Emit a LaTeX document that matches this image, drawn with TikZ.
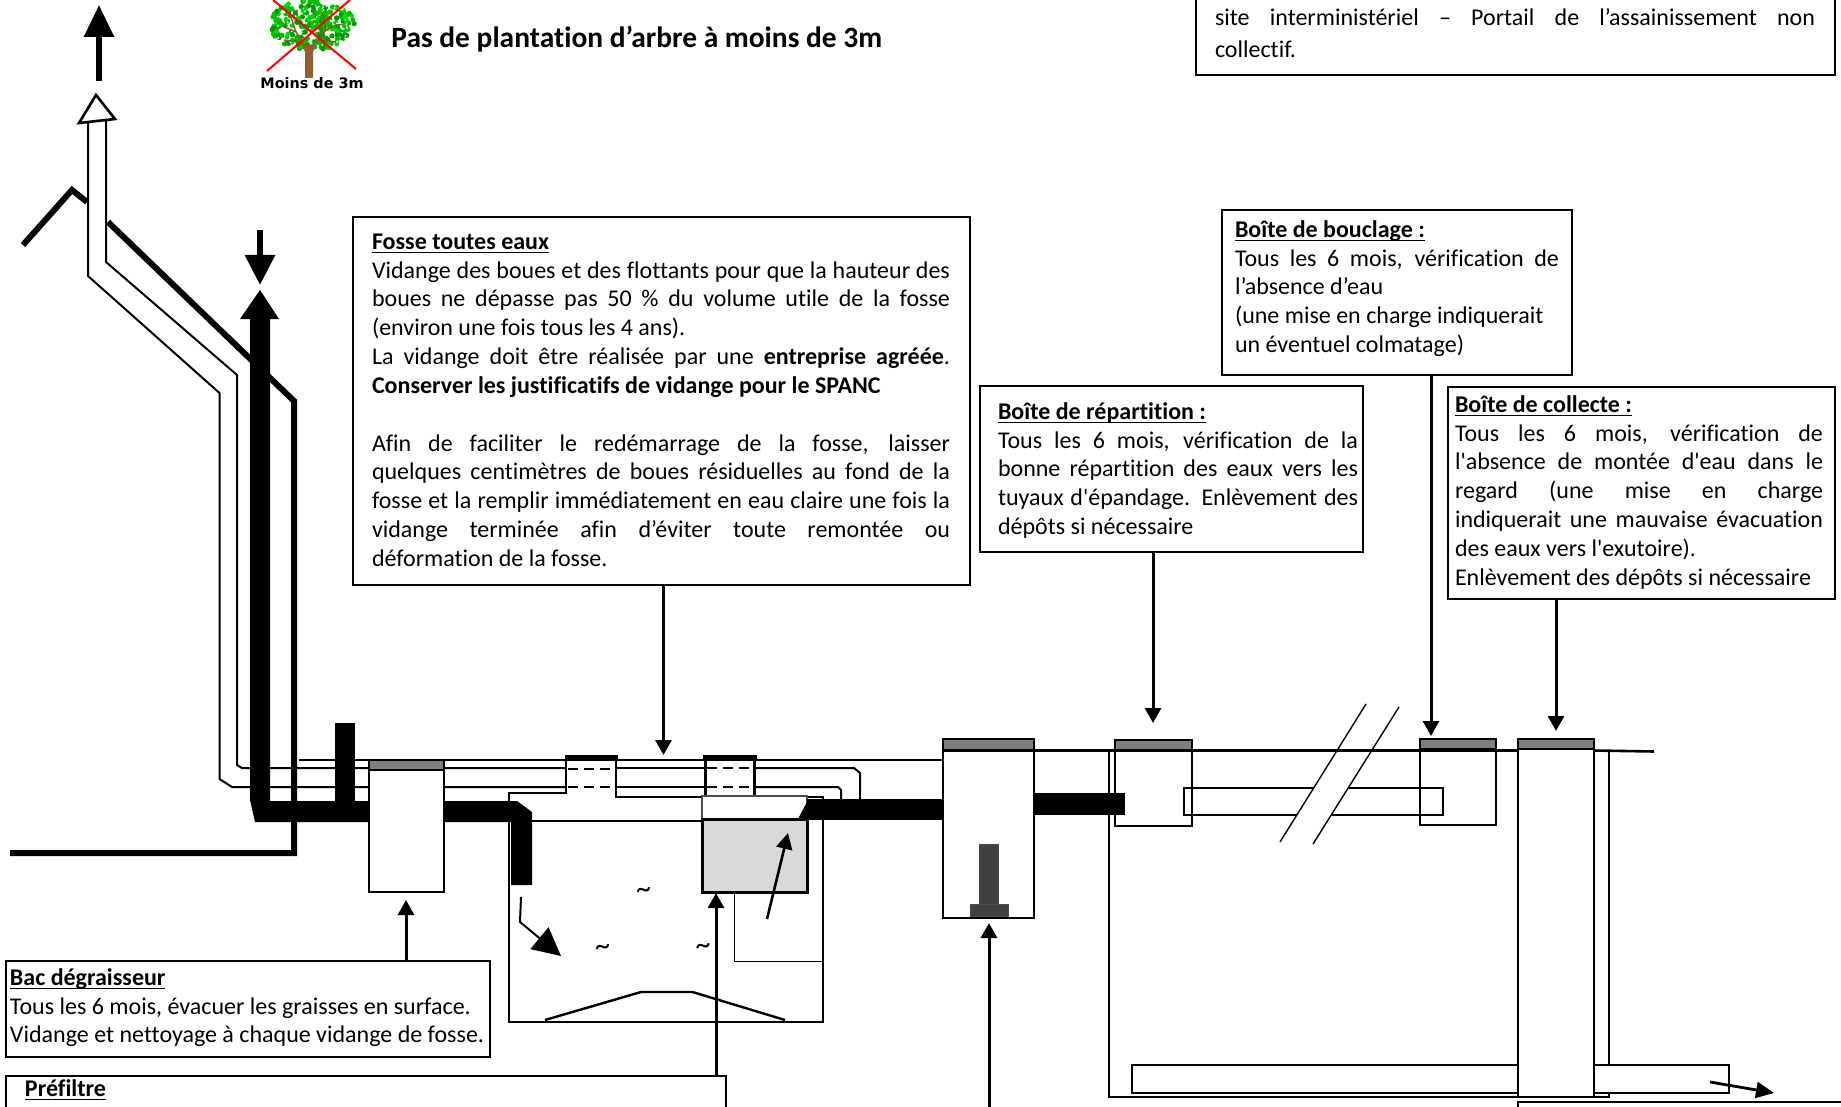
\documentclass[tikz,border=0pt]{standalone}
\usepackage{fontspec}
\usetikzlibrary{arrows.meta}
\setmainfont[Ligatures=NoCommon]{Carlito}
\newfontfamily\cf[Ligatures=NoCommon]{Carlito}
\newfontfamily\dv{DejaVu Sans}
\hbadness=10000 \hfuzz=20pt
\definecolor{lidgrey}{HTML}{7F7F7F}
\definecolor{filtgrey}{HTML}{D9D9D9}
\definecolor{colgrey}{HTML}{404040}
\tikzset{
  callout/.style={draw=black,line width=1pt,fill=white,inner sep=0pt,outer sep=0pt,anchor=north west},
  tankbox/.style={draw=black,line width=1pt,fill=white,inner sep=0pt,outer sep=0pt,anchor=north west},
  lidbox/.style={draw=black,line width=1pt,fill=lidgrey,inner sep=0pt,outer sep=0pt,anchor=north west},
  txt/.style={inner sep=0pt,outer sep=0pt,anchor=north west,align=justify,font=\cf\fontsize{12}{14.42}\selectfont},
  pipe/.style={draw=black,line width=1pt},
  arr/.style={draw=black,line width=1.5pt,-{Triangle[length=7.5pt,width=8pt]},shorten >=0pt},
  thin pipe/.style={draw=black,line width=.5pt},
  tilde/.style={inner sep=0pt,font=\cf\fontsize{15}{15}\selectfont},
}
\newcommand{\rbox}[6]{%
  \pgfmathsetlengthmacro{\rw}{(#5-#3)*.5pt}\pgfmathsetlengthmacro{\rh}{(#6-#4)*.5pt}%
  \node[#1,minimum width=\rw,minimum height=\rh] (#2) at (#3,#4) {};}
\newcommand{\hd}[1]{\underline{\smash{\textbf{#1}}}}
\begin{document}
\begin{tikzpicture}[x=.5pt,y=-.5pt]
\useasboundingbox (0,0) rectangle (1841,1107);
\clip (0,0) rectangle (1841,1107);
\fill[white] (0,0) rectangle (1841,1107);

% ---- tree
\begin{scope}
\pgfmathsetseed{4242}
\foreach \i in {1,...,260}{
  \pgfmathsetmacro{\ang}{rnd*360}\pgfmathsetmacro{\rad}{sqrt(rnd)}
  \pgfmathsetmacro{\px}{312+44*\rad*cos(\ang)}\pgfmathsetmacro{\py}{25+25*\rad*sin(\ang)}
  \pgfmathsetmacro{\gg}{int(mod(\i,3))}
  \ifnum\gg=0 \fill[green!60!black] (\px,\py) circle (1.3pt);
  \else\ifnum\gg=1 \fill[green!75!black] (\px,\py) circle (1.3pt);
  \else \fill[green!85!black] (\px,\py) circle (1.2pt);\fi\fi
}
\foreach \i in {1,...,60}{
  \pgfmathsetmacro{\ang}{rnd*360}\pgfmathsetmacro{\rad}{sqrt(rnd)}
  \pgfmathsetmacro{\px}{312+42*\rad*cos(\ang)}\pgfmathsetmacro{\py}{25+24*\rad*sin(\ang)}
  \fill[white] (\px,\py) circle (.5pt);
}
\draw[brown!70!black,line width=.7pt] (308,50) -- (296,32) -- (282,26) (296,32) -- (290,14) (312,48) -- (326,30) -- (342,24) (326,30) -- (322,12) (303,42) -- (284,40) (318,40)--(336,42);
\fill[brown!75!black] (305,78) -- (305,52) -- (300,42) -- (309,46) -- (318,40) -- (313,52) -- (313,78) -- cycle;
\draw[red,line width=1pt] (267,71) -- (350,0) (273,0) -- (356,69);
\end{scope}
\node[inner sep=0pt,font=\dv\bfseries\fontsize{7.2}{8}\selectfont] (treelab) at (312,83) {Moins de 3m};
\node[inner sep=0pt,anchor=west,font=\cf\bfseries\fontsize{14.72}{16}\selectfont] (title) at (391,39) {Pas de plantation d’arbre à moins de 3m};

% ---- roof and vent
\draw[line width=3pt,miter limit=10] (23,245) -- (72,190) -- (87,202);
\draw[line width=3pt] (108,222) -- (294,401) -- (294,853) -- (10,853);
\draw[pipe] (88,123) -- (88,276) -- (219.5,393) -- (219.5,779) -- (232,787) -- (566,787);
\draw[pipe] (106,121) -- (106,262) -- (237,375) -- (237,765) -- (242,768) -- (566,768);
\draw[line width=1.3pt,fill=white] (96,95) -- (115,119) -- (79,123) -- cycle;
\coordinate (ventbase) at (99,81);
\coordinate (venttip) at (99,5);
\draw[line width=3pt,-{Triangle[length=16pt,width=14.5pt]}] (ventbase) -- (venttip);

% ---- ground line and vent lines through the risers
\draw[pipe] (299,760) -- (943,760);
\draw[pipe,dash pattern=on 5pt off 3pt] (568,768.5) -- (616,768.5) (568,787) -- (616,787) (707,768) -- (754.5,768) (707,787) -- (754.5,787);
\draw[pipe] (616,768) -- (705.5,768) (616,787) -- (705.5,787);
\draw[pipe] (754.5,768) -- (854,768) -- (860,773) -- (860,800);
\draw[pipe] (754.5,787) -- (838,787) -- (841,790) -- (841,800);

% ---- black inlet stack
\coordinate (rainfrom) at (260,230);
\coordinate (rainto) at (260,285);
\draw[line width=3pt,-{Triangle[length=15pt,width=14.5pt]}] (rainfrom) -- (rainto);
\fill[black] (240,319) -- (260,290) -- (279,319) -- (270,319) -- (270,801) -- (370,801) -- (370,822) -- (255,822) -- (250,800) -- (250,319) -- cycle;
\fill[black] (335,723) rectangle (355,802);
\fill[black] (444,801) -- (517,801) -- (532,812) -- (532,885) -- (511,885) -- (511,822) -- (444,822) -- cycle;

% ---- grease tank
\rbox{tankbox}{bac}{369}{760}{444}{892}
\rbox{lidbox}{baclid}{369}{760}{444}{770}

% ---- septic tank
\draw[line width=1.2pt,line join=miter] (566,761) -- (566,793) -- (509,793) -- (509,1022) -- (823,1022) -- (823,797) -- (754.5,797);
\draw[line width=1.2pt] (616,761) -- (616,797) -- (702,797);
\draw[line width=1.2pt] (532,821) -- (702,821);
\draw[line width=1.2pt] (705.5,761) -- (705.5,796) (754.5,761) -- (754.5,796);
\fill[black] (565,755) rectangle (618,761);
\fill[black] (703,755) rectangle (757,761);
\rbox{tankbox,draw=black!70,line width=1pt}{filttop}{702}{796}{807}{819}
\rbox{tankbox,fill=filtgrey,line width=1.5pt}{filt}{702}{819}{807}{892}
\fill[black] (798,819) -- (807,819) -- (807,802) -- cycle;
\draw[thin pipe] (734,892) -- (734,961) -- (822,961);
\draw[line width=1.2pt] (545,1020) -- (641,992) -- (692.5,992) -- (785,1020);
\draw[line width=1pt,-{Triangle[length=14pt,width=14pt]}] (521,897) -- (520,922) -- (561,956);
\node[tilde] (t1) at (643.5,893) {\textasciitilde};
\node[tilde] (t2) at (602.5,950) {\textasciitilde};
\node[tilde] (t3) at (703,949) {\textasciitilde};
\coordinate (fa) at (767,919);
\coordinate (fb) at (788,833);
\draw[line width=1.3pt,-{Triangle[length=8pt,width=8pt]}] (fa) -- (fb);

% ---- outlet pipe and distribution boxes
\fill[black] (807,799) rectangle (944,820);
\rbox{tankbox}{chasse}{943}{739}{1034}{918}
\rbox{lidbox}{chasselid}{943}{739}{1034}{750}
\fill[black] (943,750) rectangle (1034,752);
\node[draw=black!70,line width=.4pt,fill=colgrey,inner sep=0pt,anchor=north west,minimum width=9.5pt,minimum height=30pt] (col) at (979,844) {};
\node[draw=black!70,line width=.4pt,fill=colgrey,inner sep=0pt,anchor=north west,minimum width=19pt,minimum height=6pt] (colb) at (970,904) {};

% drain field
\draw[line width=1pt] (1109,750) -- (1109,1097) -- (1609,1097) -- (1609,750);
\rbox{tankbox,fill=white}{botpipe}{1132}{1065}{1729}{1093}
\draw[line width=1pt] (1184,788) rectangle (1443,815);
\fill[white] (1366,704) -- (1399,707) -- (1313,844) -- (1280,842) -- cycle;
\draw[line width=.7pt] (1366,704) -- (1280,842) (1399,707) -- (1313,844);
\fill[black] (1034,793) rectangle (1125,815);
\draw[line width=1pt] (1115,740) rectangle (1192,826);
\draw[line width=1pt] (1420,739) rectangle (1496,825);
\rbox{tankbox}{collecte}{1518}{739}{1593.5}{1097}
\rbox{lidbox}{collid}{1518}{739}{1593.5}{749}
\rbox{lidbox}{replid}{1115}{740}{1192}{750}
\rbox{lidbox}{boulid}{1420}{739}{1496}{749}
\draw[line width=1.3pt] (1034,750.5) -- (1518,750.5) (1593.5,750.5) -- (1654,751.5);
\coordinate (exa) at (1710,1082);
\coordinate (exb) at (1774,1093);
\draw[line width=1.4pt,-{Triangle[length=9pt,width=8pt]}] (exa) -- (exb);

% ---- callouts
\rbox{callout}{fosseB}{353}{217}{970}{585}
\node[txt,text width=289pt] (fosseT) at (372,229) {\strut\hd{Fosse toutes eaux}\par
Vidange des boues et des flottants pour que la hauteur des\linebreak
boues ne dépasse pas 50 \% du volume utile de la fosse\linebreak
(environ une fois tous les 4 ans).\par
La vidange doit être réalisée par une \textbf{entreprise agréée}.\linebreak
\textbf{Conserver les justificatifs de vidange pour le SPANC}\par
\strut\par
Afin de faciliter le redémarrage de la fosse, laisser\linebreak
quelques centimètres de boues résiduelles au fond de la\linebreak
fosse et la remplir immédiatement en eau claire une fois la\linebreak
vidange terminée afin d’éviter toute remontée ou\linebreak
déformation de la fosse.};

\rbox{callout}{bouB}{1222}{210}{1572}{375}
\node[txt,text width=162pt] (bouT) at (1235,217) {\strut\hd{Boîte de bouclage :}\par
Tous les 6 mois, vérification de\linebreak
l’absence d’eau\par
(une mise en charge indiquerait\par
un éventuel colmatage)};

\rbox{callout}{repB}{980}{386}{1363}{552}
\node[txt,text width=180pt] (repT) at (998,399) {\strut\hd{Boîte de répartition :}\par
Tous les 6 mois, vérification de la\linebreak
bonne répartition des eaux vers les\linebreak
tuyaux d'épandage. Enlèvement des\linebreak
dépôts si nécessaire};

\rbox{callout}{colB}{1448}{387}{1835}{599}
\node[txt,text width=184pt] (colT) at (1455,392) {\strut\hd{Boîte de collecte :}\par
Tous les 6 mois, vérification de\linebreak
l'absence de montée d'eau dans le\linebreak
regard (une mise en charge\linebreak
indiquerait une mauvaise évacuation\linebreak
des eaux vers l'exutoire).\par
Enlèvement des dépôts si nécessaire};

\rbox{callout}{siteB}{1196}{-40}{1835}{75}
\node[txt,text width=300pt,font=\cf\fontsize{12}{16.45}\selectfont] (siteT) at (1215,2) {\strut site interministériel – Portail de l’assainissement non\linebreak
collectif.};

\rbox{callout}{bacB}{6}{961}{490}{1057}
\node[txt,text width=240pt] (bacT) at (10,965) {\strut\hd{Bac dégraisseur}\par
Tous les 6 mois, évacuer les graisses en surface.\par
Vidange et nettoyage à chaque vidange de fosse.};

\rbox{callout}{preB}{6}{1076}{726}{1140}
\node[txt,text width=200pt] (preT) at (25,1076) {\strut\hd{Préfiltre}};

\rbox{callout}{sortB}{1518}{1102}{1860}{1140}

% ---- leaders
\coordinate (tipFosse) at (663.5,755);
\coordinate (tipRep) at (1153,723);
\coordinate (tipBou) at (1431,736);
\coordinate (tipCol) at (1556,731);
\coordinate (tipBac) at (406,900);
\coordinate (tipPre) at (716,893);
\coordinate (tipCha) at (989,923);
\coordinate (chaFoot) at (989,1110);
\draw[arr] (fosseB.south -| tipFosse) -- (tipFosse);
\draw[arr] (repB.south -| tipRep) -- (tipRep);
\draw[arr] (bouB.south -| tipBou) -- (tipBou);
\draw[arr] (colB.south -| tipCol) -- (tipCol);
\draw[arr] (bacB.north -| tipBac) -- (tipBac);
\draw[arr] (preB.north -| tipPre) -- (tipPre);
\draw[arr] (chaFoot) -- (tipCha);
\end{tikzpicture}
\end{document}
